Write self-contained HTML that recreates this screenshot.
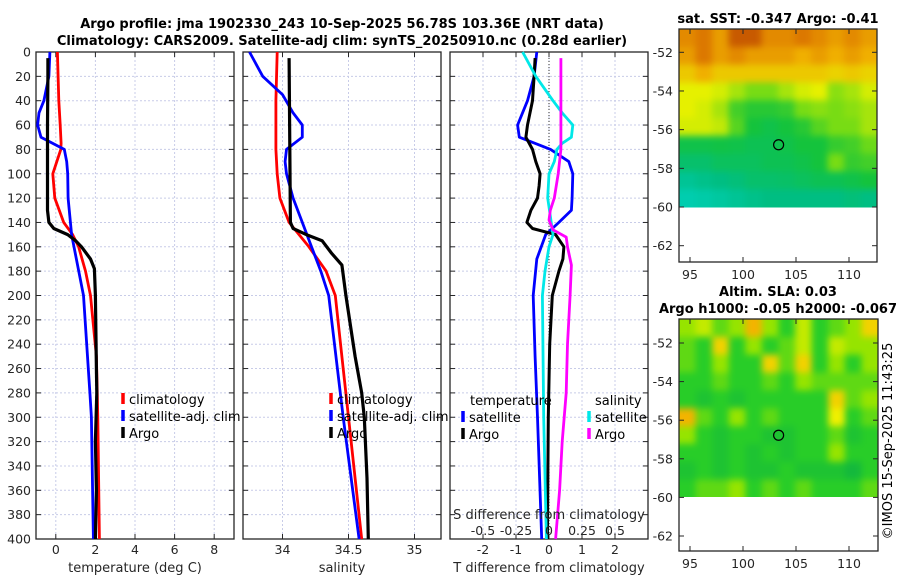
<!DOCTYPE html>
<html><head><meta charset="utf-8">
<style>
html,body{margin:0;padding:0;background:#fff;}
svg{display:block;font-family:"DejaVu Sans","Liberation Sans",sans-serif;}
</style></head>
<body>
<svg id="chart" width="900" height="580" viewBox="0 0 900 580" xmlns="http://www.w3.org/2000/svg">
<defs>
<filter id="smooth" x="-0.1" y="-0.1" width="1.2" height="1.2" color-interpolation-filters="sRGB">
<feGaussianBlur stdDeviation="3.5"/>
</filter>
<clipPath id="clipSst"><rect x="679" y="29" width="198" height="178.5"/></clipPath>
<clipPath id="clipSla"><rect x="679" y="319" width="199" height="178"/></clipPath>
</defs>
</svg>
<script>
// ---------- data ----------
const depthTicks = [0,20,40,60,80,100,120,140,160,180,200,220,240,260,280,300,320,340,360,380,400];
const tempTicks = [0,2,4,6,8];
const salTicks = [34,34.5,35];
const tdiffTicks = [-2,-1,0,1,2];
const sdiffTicks = [-0.5,-0.25,0,0.25,0.5];
const sdiffTickLabels = ["-0.5","-0.25","0","0.25","0.5"];

const argoTDepth = [5,20,60,100,130,140,145,150,155,160,170,178,200,260,280,320,360,400];
const argoT      = [-0.4,-0.4,-0.42,-0.42,-0.42,-0.35,-0.1,0.6,1.0,1.3,1.75,1.95,2.0,2.05,2.07,2.0,2.05,2.0];
const climTDepth = [0,40,60,75,80,100,120,140,150,160,180,200,250,300,400];
const climT      = [0.08,0.15,0.22,0.27,0.25,-0.15,-0.05,0.4,0.85,1.15,1.5,1.75,2.05,2.12,2.2];
const satTDepth  = [0,20,40,50,60,70,80,90,100,120,150,200,280,300,400];
const satT       = [-0.3,-0.35,-0.6,-0.85,-0.92,-0.75,0.43,0.55,0.6,0.62,0.8,1.4,1.72,1.8,1.9];

const argoSDepth = [5,140,145,150,155,165,175,200,250,280,300,350,400];
const argoS      = [34.05,34.06,34.08,34.18,34.3,34.37,34.45,34.48,34.55,34.6,34.62,34.64,34.65];
const climSDepth = [0,40,80,100,120,140,160,180,200,260,300,400];
const climS      = [33.96,33.95,33.95,33.96,33.98,34.05,34.2,34.33,34.4,34.46,34.5,34.6];
const satSDepth  = [0,20,35,50,60,70,80,90,100,120,140,160,180,200,300,400];
const satS       = [33.75,33.85,34.0,34.08,34.15,34.15,34.03,34.02,34.03,34.08,34.15,34.22,34.29,34.35,34.46,34.58];

const argoTdDepth = [5,20,40,60,70,80,90,100,110,120,130,140,145,150,160,170,180,200,240,300,400];
const argoTd      = [-0.42,-0.45,-0.5,-0.65,-0.7,-0.5,-0.4,-0.27,-0.3,-0.35,-0.55,-0.67,-0.5,0.2,0.45,0.42,0.3,0.1,0.02,-0.02,-0.05];
const satTdDepth  = [0,20,40,60,70,80,90,100,120,130,140,150,170,200,250,300,400];
const satTd       = [-0.37,-0.45,-0.65,-0.95,-0.9,0.05,0.6,0.72,0.7,0.68,0.3,-0.1,-0.37,-0.48,-0.42,-0.35,-0.22];
const satSdDepth  = [0,20,40,50,60,70,75,80,90,100,120,150,160,180,200,300,400];
const satSd       = [-0.2,-0.1,0.03,0.1,0.18,0.17,0.1,0.06,0.04,0.0,-0.01,0.03,0.0,-0.03,-0.05,-0.04,-0.02];
const argoSdDepth = [5,80,100,120,130,138,146,152,160,175,200,240,280,320,360,400];
const argoSd      = [0.09,0.09,0.07,0.04,0.01,0.0,0.03,0.13,0.14,0.17,0.16,0.14,0.13,0.1,0.08,0.05];

const lonTicks = [95,100,105,110];
const latTicks = [-52,-54,-56,-58,-60,-62];
const argoLon = [103.36];
const argoLat = [-56.78];
const sstGrid = [
[0.85,0.9,0.8,0.95,0.95,0.85,0.85,0.9,0.85,0.8,0.85,0.8],
[0.8,0.9,0.8,0.85,0.8,0.8,0.8,0.75,0.8,0.75,0.8,0.75],
[0.7,0.75,0.7,0.7,0.7,0.7,0.7,0.7,0.7,0.68,0.7,0.68],
[0.62,0.62,0.6,0.55,0.5,0.5,0.55,0.6,0.62,0.52,0.55,0.6],
[0.62,0.6,0.55,0.42,0.38,0.38,0.4,0.5,0.52,0.5,0.52,0.55],
[0.6,0.6,0.58,0.45,0.35,0.32,0.35,0.38,0.45,0.5,0.5,0.55],
[0.32,0.32,0.33,0.32,0.3,0.3,0.32,0.35,0.35,0.4,0.42,0.48],
[0.25,0.25,0.28,0.28,0.28,0.3,0.3,0.32,0.35,0.5,0.4,0.42],
[0.15,0.18,0.2,0.22,0.25,0.25,0.26,0.28,0.3,0.3,0.32,0.35],
[0.08,0.1,0.12,0.15,0.18,0.2,0.2,0.2,0.2,0.2,0.22,0.2]];
const slaGrid = [
[0.5,0.6,0.4,0.5,0.9,0.5,0.3,0.6,0.3,0.4,0.5,0.8],
[0.4,0.3,0.8,0.3,0.5,0.3,0.4,0.6,0.3,0.6,0.5,0.5],
[0.4,0.3,0.5,0.3,0.3,0.8,0.4,0.8,0.3,0.5,0.3,0.5],
[0.3,0.3,0.4,0.3,0.3,0.4,0.3,0.5,0.4,0.4,0.4,0.4],
[0.3,0.2,0.3,0.2,0.3,0.3,0.3,0.3,0.3,0.8,0.4,0.5],
[0.9,0.4,0.3,0.5,0.3,0.4,0.3,0.3,0.3,0.7,0.3,0.4],
[0.5,0.3,0.2,0.3,0.3,0.2,0.2,0.3,0.3,0.4,0.2,0.3],
[0.3,0.3,0.2,0.3,0.2,0.3,0.2,0.3,0.3,0.5,0.3,0.3],
[0.2,0.3,0.2,0.3,0.2,0.2,0.3,0.2,0.2,0.2,0.1,0.3],
[0.3,0.4,0.4,0.5,0.3,0.4,0.3,0.4,0.3,0.3,0.3,0.4]];

// ---------- helpers ----------
const NS = "http://www.w3.org/2000/svg";
const svg = document.getElementById("chart");
function mk(tag, attrs, parent){
  const e = document.createElementNS(NS, tag);
  for (const k in attrs) e.setAttribute(k, attrs[k]);
  (parent||svg).appendChild(e);
  return e;
}
function lin(d0,d1,r0,r1){ return v => r0 + (v-d0)/(d1-d0)*(r1-r0); }
const Y0 = 52, Y1 = 539;
const yDepth = lin(0,400,Y0,Y1);

function text(str,x,y,opts){
  const t = mk("text",{x:x,y:y,"font-size":opts.size||12.5,fill:opts.fill||"#262626","text-anchor":opts.anchor||"middle","font-weight":opts.weight||"normal"});
  if (opts.transform) t.setAttribute("transform",opts.transform);
  t.textContent = str;
  return t;
}

function panel(name,x0,x1,xs,ticks,tickLabels,showY){
  const g = mk("g",{});
  
  
  ticks.forEach(v=>{ mk("line",{x1:xs(v),x2:xs(v),y1:Y0,y2:Y1,stroke:"#c8cce8","stroke-width":1,"stroke-dasharray":"2,2"},g); });
  depthTicks.forEach(d=>{ mk("line",{x1:x0,x2:x1,y1:yDepth(d),y2:yDepth(d),stroke:"#c8cce8","stroke-width":1,"stroke-dasharray":"2,2"},g); });
  depthTicks.forEach(d=>{
    mk("line",{x1:x0,x2:x0+5,y1:yDepth(d),y2:yDepth(d),stroke:"#262626"},g);
    mk("line",{x1:x1-5,x2:x1,y1:yDepth(d),y2:yDepth(d),stroke:"#262626"},g);
  });
  ticks.forEach(v=>{
    mk("line",{x1:xs(v),x2:xs(v),y1:Y1-5,y2:Y1,stroke:"#262626"},g);
    mk("line",{x1:xs(v),x2:xs(v),y1:Y0,y2:Y0+5,stroke:"#262626"},g);
  });
  mk("rect",{x:x0,y:Y0,width:x1-x0,height:Y1-Y0,fill:"none",stroke:"#262626","stroke-width":1.3},g);
  ticks.forEach((v,i)=>{ const t=text(tickLabels[i],xs(v),554,{}); g.appendChild(t); });
  if (showY) depthTicks.forEach(d=>{ const t=text(String(d),31,yDepth(d)+4.5,{anchor:"end"}); g.appendChild(t); });
  return g;
}
function curve(name,vals,depths,xs,color,w,dash){
  const pts = vals.map((v,i)=>xs(v).toFixed(1)+","+yDepth(depths[i]).toFixed(1)).join(" ");
  const p = mk("polyline",{points:pts,fill:"none",stroke:color,"stroke-width":w||3,"stroke-linejoin":"round"});
  if (dash) p.setAttribute("stroke-dasharray",dash);
  
  
  return p;
}
function legendEntry(name,x,y,color,label){
  const g = mk("g",{});
  
  
  mk("line",{x1:x,x2:x,y1:y-11,y2:y,stroke:color,"stroke-width":3.5},g);
  const t = text(label,x+6,y,{anchor:"start",size:13,fill:"#000"}); g.appendChild(t);
}

// ---------- titles ----------
const t1 = text("Argo profile: jma 1902330_243 10-Sep-2025 56.78S 103.36E (NRT data)",342,28,{weight:"bold",size:13,fill:"#000"});


const t2 = text("Climatology: CARS2009. Satellite-adj clim: synTS_20250910.nc (0.28d earlier)",342,45,{weight:"bold",size:13,fill:"#000"});



// ---------- panel 1 temperature ----------
const xT = lin(-1,9,36,234);
panel("temperature-panel",36,234,xT,tempTicks,tempTicks.map(String),true);
curve("temperature-climatology-line",climT,climTDepth,xT,"#ff0000",2.8);
curve("temperature-satellite-line",satT,satTDepth,xT,"#0000ff",2.8);
curve("temperature-argo-line",argoT,argoTDepth,xT,"#000000",3.2);
legendEntry("legend-climatology",123,404,"#ff0000","climatology");
legendEntry("legend-satellite-adj-clim",123,421,"#0000ff","satellite-adj. clim");
legendEntry("legend-argo",123,438,"#000000","Argo");
const xl1 = text("temperature (deg C)",135,572,{size:13});  

// ---------- panel 2 salinity ----------
const xS = lin(34,35,282.5,414.5);
panel("salinity-panel",243,441,xS,salTicks,["34","34.5","35"],false);
curve("salinity-climatology-line",climS,climSDepth,xS,"#ff0000",2.8);
curve("salinity-satellite-line",satS,satSDepth,xS,"#0000ff",2.8);
curve("salinity-argo-line",argoS,argoSDepth,xS,"#000000",3.2);
legendEntry("legend-climatology-sal",331,404,"#ff0000","climatology");
legendEntry("legend-satellite-adj-clim-sal",331,421,"#0000ff","satellite-adj. clim");
legendEntry("legend-argo-sal",331,438,"#000000","Argo");
const xl2 = text("salinity",342,572,{size:13});  

// ---------- panel 3 differences ----------
const xTd = lin(-3,3,450,648);
const xSd = lin(0,1,549,681);
panel("difference-panel",450,648,xTd,tdiffTicks,tdiffTicks.map(String),false);
const zl = mk("line",{x1:xTd(0),x2:xTd(0),y1:Y0,y2:Y1,stroke:"#333","stroke-width":1,"stroke-dasharray":"1,2"});


curve("tdiff-satellite-line",satTd,satTdDepth,xTd,"#0000ff",2.8);
curve("tdiff-argo-line",argoTd,argoTdDepth,xTd,"#000000",3);
curve("sdiff-satellite-line",satSd,satSdDepth,xSd,"#00e8e8",2.8);
curve("sdiff-argo-line",argoSd,argoSdDepth,xSd,"#ff00ff",2.8);
const lt = text("temperature",470,405,{anchor:"start",size:13,fill:"#000"});  
const ls = text("salinity",595,405,{anchor:"start",size:13,fill:"#000"});  
legendEntry("legend-tdiff-satellite",463,422,"#0000ff","satellite");
legendEntry("legend-tdiff-argo",463,439,"#000000","Argo");
legendEntry("legend-sdiff-satellite",589,422,"#00e8e8","satellite");
legendEntry("legend-sdiff-argo",589,439,"#ff00ff","Argo");
const st = text("S difference from climatology",549,519,{size:13});  
sdiffTicks.forEach((v,i)=>{
  const t = text(sdiffTickLabels[i],xSd(v),535,{size:12.5});
  
  
});
const xl3 = text("T difference from climatology",549,572,{size:13});  

// ---------- maps ----------
function lerpColor(stops,v){
  v = Math.max(0,Math.min(1,v));
  for (let i=1;i<stops.length;i++){
    if (v<=stops[i][0]){
      const a=stops[i-1], b=stops[i], f=(v-a[0])/(b[0]-a[0]);
      const c=[0,1,2].map(k=>Math.round(a[1][k]+(b[1][k]-a[1][k])*f));
      return "rgb("+c.join(",")+")";
    }
  }
  return "rgb("+stops[stops.length-1][1].join(",")+")";
}
const sstStops = [[0,[0,215,205]],[0.2,[0,190,130]],[0.35,[20,195,60]],[0.5,[120,220,20]],[0.62,[230,240,0]],[0.75,[240,175,0]],[0.9,[220,120,0]],[1,[180,60,0]]];
const slaStops = [[0,[10,175,70]],[0.3,[40,205,40]],[0.5,[150,228,0]],[0.7,[240,240,0]],[1,[245,150,0]]];

function drawMap(name,clipId,grid,stops,x0,x1,yTop,yBot,latToY,lonToX,title1,title2,t1y,t2y){
  const g = mk("g",{});
  
  
  const clip = mk("g",{"clip-path":"url(#"+clipId+")"},g);
  const cells = mk("g",{filter:"url(#smooth)"},clip);
  const rows = grid.length, cols = grid[0].length;
  const yData = latToY(-60);
  const cw = (x1-x0)/cols, rh = (yData-yTop)/rows;
  const pad = 10;
  grid.forEach((row,r)=>row.forEach((v,c)=>{
    let cx = x0+c*cw, cy = yTop+r*rh, w = cw+0.6, h = rh+0.6;
    if (c===0){ cx -= pad; w += pad; }
    if (c===cols-1){ w += pad; }
    if (r===0){ cy -= pad; h += pad; }
    if (r===rows-1){ h += pad; }
    const cell = mk("rect",{x:cx.toFixed(2),y:cy.toFixed(2),width:w.toFixed(2),height:h.toFixed(2),fill:lerpColor(stops,v)},cells);
    
    
  }));
  latTicks.forEach(l=>{
    const y = latToY(l);
    mk("line",{x1:x0,x2:x0+5,y1:y,y2:y,stroke:"#262626"},g);
    mk("line",{x1:x1-5,x2:x1,y1:y,y2:y,stroke:"#262626"},g);
    g.appendChild(text(String(l),673,y+4.5,{anchor:"end"}));
  });
  lonTicks.forEach(l=>{
    const x = lonToX(l);
    mk("line",{x1:x,x2:x,y1:yBot-5,y2:yBot,stroke:"#262626"},g);
    mk("line",{x1:x,x2:x,y1:yTop,y2:yTop+5,stroke:"#262626"},g);
    g.appendChild(text(String(l),x,yBot+17,{}));
  });
  mk("rect",{x:x0,y:yTop,width:x1-x0,height:yBot-yTop,fill:"none",stroke:"#262626","stroke-width":1.3},g);
  const m = mk("circle",{cx:lonToX(argoLon[0]),cy:latToY(argoLat[0]),r:5,fill:"none",stroke:"#000","stroke-width":1.2},g);
  
  
  const a = text(title1,778,t1y,{weight:"bold",size:13,fill:"#000"}); g.appendChild(a);
  if (title2){ const b = text(title2,778,t2y,{weight:"bold",size:13,fill:"#000"}); g.appendChild(b); }
}
const lonX = lin(95,110,690,849);
drawMap("sst-map","clipSst",sstGrid,sstStops,679,877,29,262,lin(-52,-62,52.3,245.7),lonX,"sat. SST: -0.347 Argo: -0.41",null,23,0);
drawMap("sla-map","clipSla",slaGrid,slaStops,679,878,319,551,lin(-52,-62,343,536),lonX,"Altim. SLA: 0.03","Argo h1000: -0.05 h2000: -0.067",296,313);

const cr = text("©IMOS 15-Sep-2025 11:43:25",0,0,{size:13,transform:"translate(892,441) rotate(-90)",fill:"#000"});


</script>
</body></html>
